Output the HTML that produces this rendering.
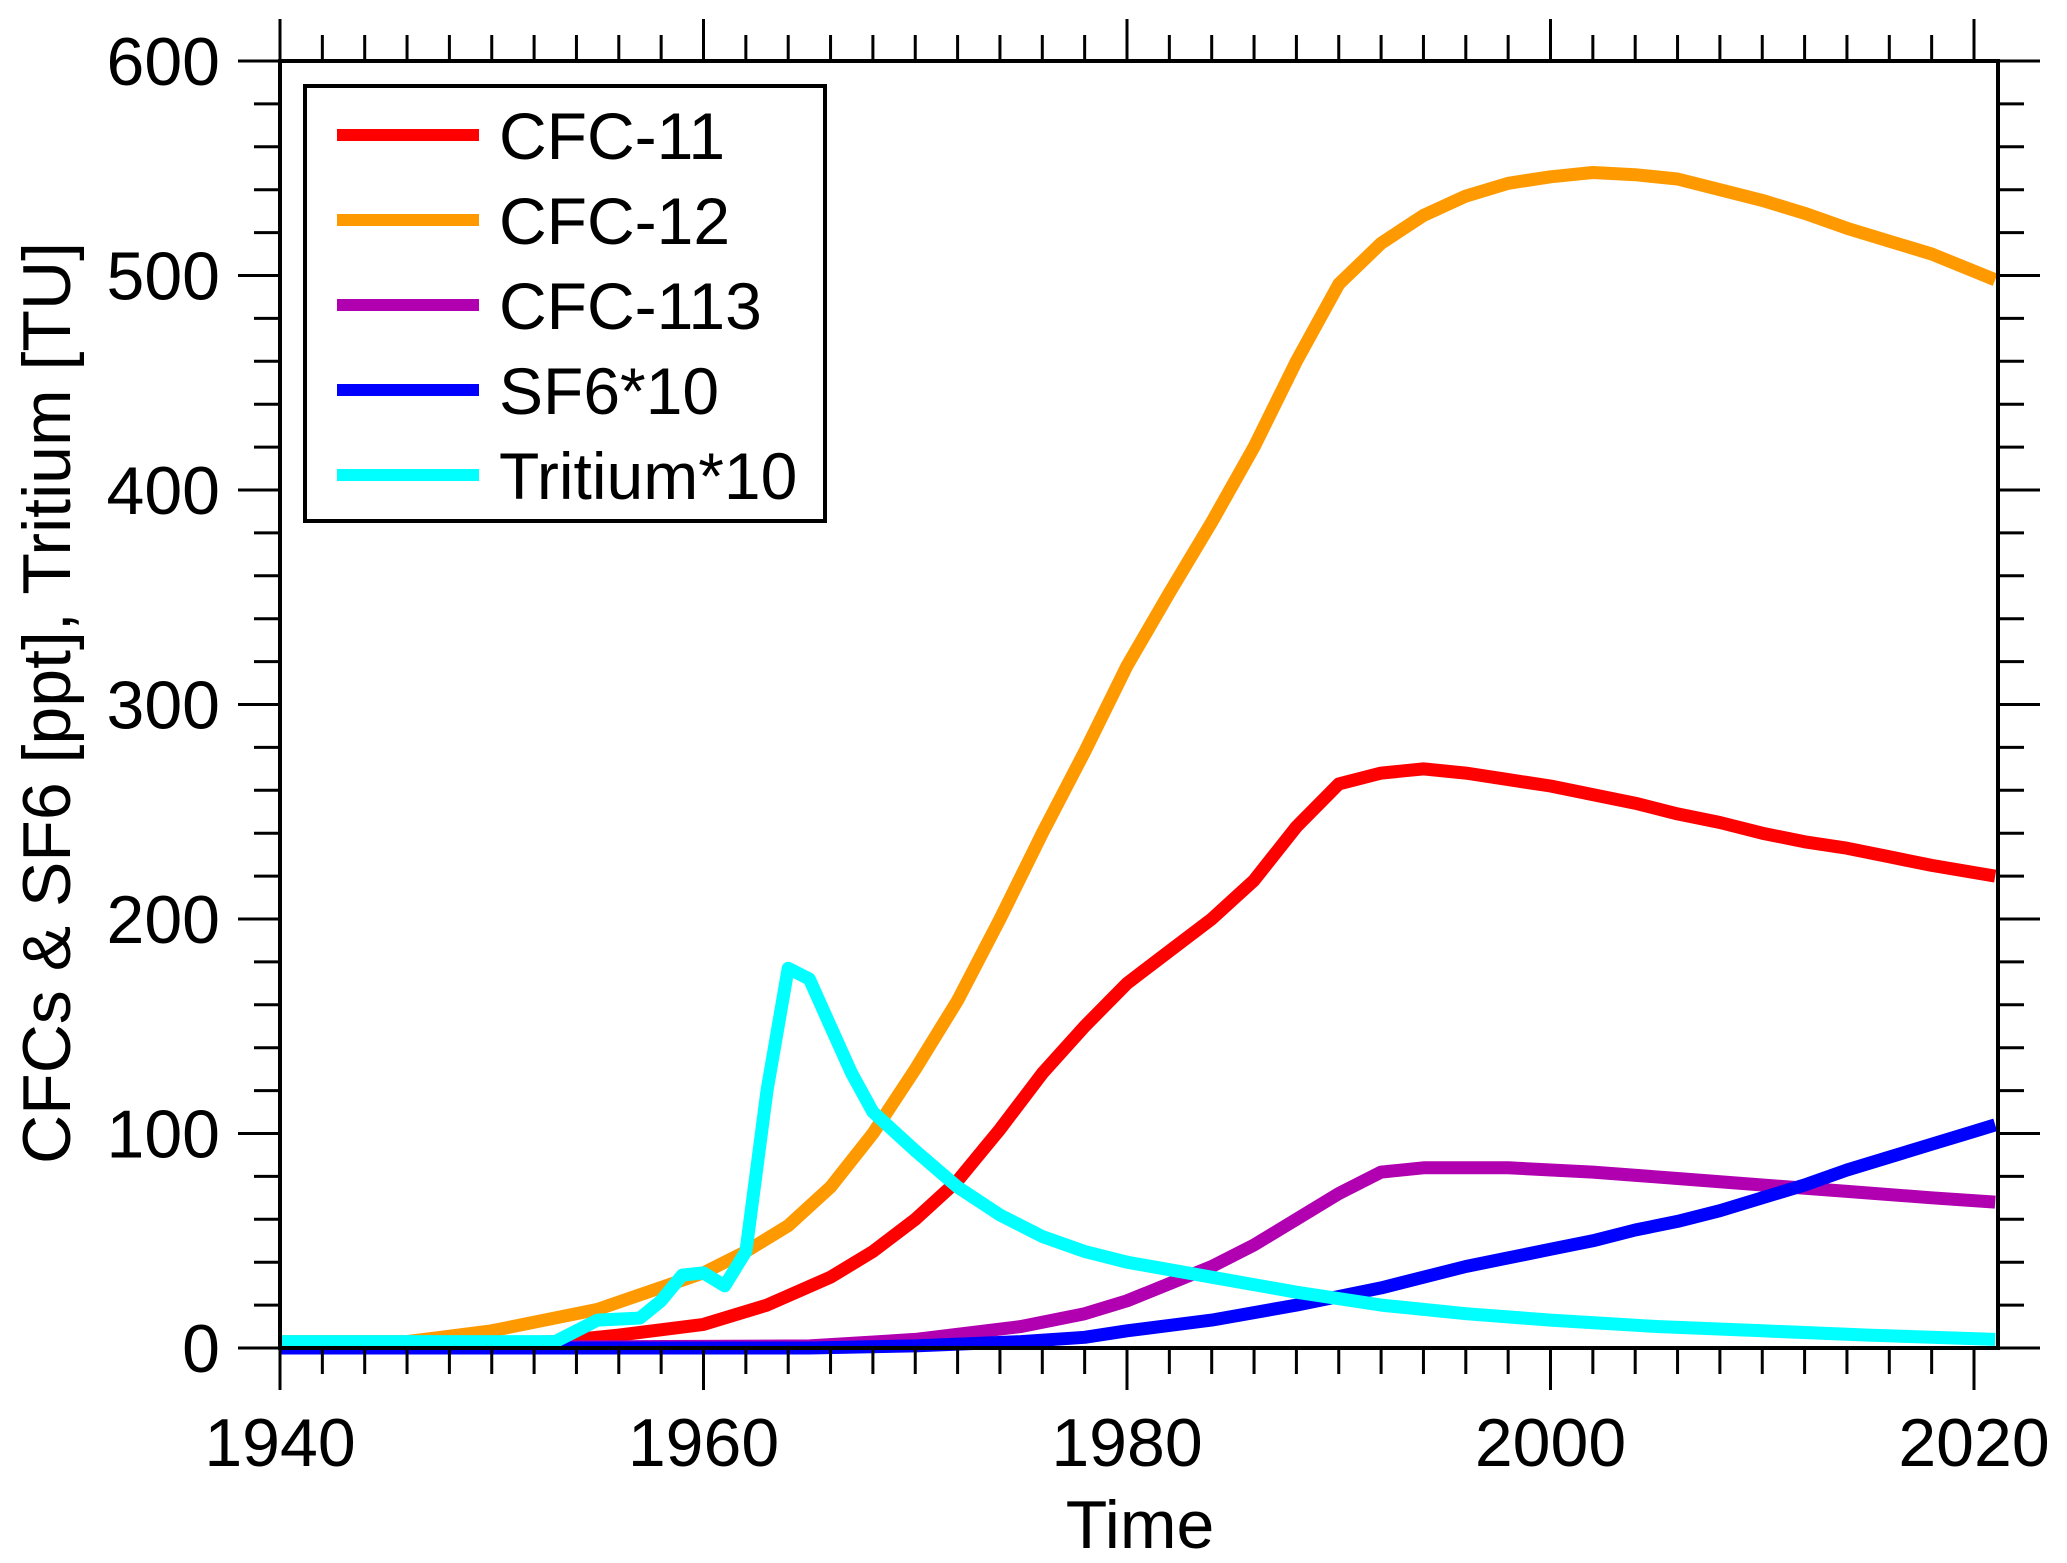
<!DOCTYPE html>
<html><head><meta charset="utf-8"><style>
html,body{margin:0;padding:0;background:#fff}
svg{display:block;font-family:"Liberation Sans",Arial,sans-serif}
</style></head><body>
<svg id="chart" width="2067" height="1563" viewBox="0 0 2067 1563" xmlns="http://www.w3.org/2000/svg">
<rect width="2067" height="1563" fill="#fff"/>
<g id="series"></g>
<g id="axes"></g>
<g id="legend"></g>
</svg>
<script>
const xTickLabels = [1940, 1960, 1980, 2000, 2020];
const yTickLabels = [0, 100, 200, 300, 400, 500, 600];
const cfc12Years = [1940,1946,1950,1955,1960,1962,1964,1966,1968,1970,1972,1974,1976,1978,1980,1982,1984,1986,1988,1990,1992,1994,1996,1998,2000,2002,2004,2006,2008,2010,2012,2014,2016,2018,2021];
const cfc12Values = [3,3,8,18,35,45,57,75,100,130,162,200,240,278,318,352,385,420,460,496,515,528,537,543,546,548,547,545,540,535,529,522,516,510,498];
const cfc11Years = [1940,1953,1956,1960,1963,1966,1968,1970,1972,1974,1976,1978,1980,1982,1984,1986,1988,1990,1992,1994,1996,1998,2000,2002,2004,2006,2008,2010,2012,2014,2016,2018,2021];
const cfc11Values = [0,3,6,11,20,33,45,60,78,102,128,150,170,185,200,218,243,263,268,270,268,265,262,258,254,249,245,240,236,233,229,225,220];
const cfc113Years = [1940,1965,1970,1975,1978,1980,1982,1984,1986,1988,1990,1992,1994,1998,2002,2006,2010,2014,2018,2021];
const cfc113Values = [0,1,4,10,16,22,30,38,48,60,72,82,84,84,82,79,76,73,70,68];
const sf6Years = [1940,1965,1970,1975,1978,1980,1984,1988,1990,1992,1994,1996,1998,2000,2002,2004,2006,2008,2010,2012,2014,2016,2018,2020,2021];
const sf6Values = [0,0,1,3,5,8,13,20,24,28,33,38,42,46,50,55,59,64,70,76,83,89,95,101,104];
const tritiumYears = [1940,1953,1954,1955,1957,1958,1959,1960,1961,1962,1963,1964,1965,1966,1967,1968,1970,1972,1974,1976,1978,1980,1984,1988,1992,1996,2000,2005,2010,2015,2021];
const tritiumValues = [3,3,8,13,14,22,34,35,29,45,120,177,172,150,128,110,92,75,62,52,45,40,33,26,20,16,13,10,8,6,4];
const seriesNames = ["CFC-11","CFC-12","CFC-113","SF6*10","Tritium*10"];

const NS="http://www.w3.org/2000/svg";
const L=280,R=1998,T=61,B=1348;
const xs=v=>L+(v-1940)*(1974-280)/80;
const ys=v=>B-v*(B-T)/600;
function mk(tag,attrs,parent){const e=document.createElementNS(NS,tag);for(const k in attrs)e.setAttribute(k,attrs[k]);parent.appendChild(e);return e;}
const gS=document.getElementById('series'),gA=document.getElementById('axes'),gL=document.getElementById('legend');

const series=[
 {name:'cfc-11',yrs:cfc11Years,vals:cfc11Values,c:'#ff0000'},
 {name:'cfc-12',yrs:cfc12Years,vals:cfc12Values,c:'#ff9900'},
 {name:'cfc-113',yrs:cfc113Years,vals:cfc113Values,c:'#b000b0'},
 {name:'sf6',yrs:sf6Years,vals:sf6Values,c:'#0000ff'},
 {name:'tritium',yrs:tritiumYears,vals:tritiumValues,c:'#00ffff'}
];
series.forEach(s=>{
 const d=s.yrs.map((y,i)=>(i?'L':'M')+xs(y).toFixed(1)+','+ys(s.vals[i]).toFixed(1)).join('');
 const p=mk('path',{d:d,fill:'none',stroke:s.c,'stroke-width':13,'stroke-linejoin':'round'},gS);
 
 
});

const fr=mk('rect',{x:L,y:T,width:R-L,height:B-T,fill:'none',stroke:'#000','stroke-width':4},gA);


for(let y=1940;y<=2020;y+=2){
 const maj=(y%20===0),len=maj?42:26,x=xs(y);
 mk('line',{x1:x,y1:B,x2:x,y2:B+len,stroke:'#000','stroke-width':3},gA);
 mk('line',{x1:x,y1:T,x2:x,y2:T-len,stroke:'#000','stroke-width':3},gA);
}
xTickLabels.forEach(v=>{
 const t=mk('text',{x:xs(v),y:1466,'font-size':68,'text-anchor':'middle'},gA);
 t.textContent=v;
 
 
});
for(let v=0;v<=600;v+=20){
 const maj=(v%100===0),len=maj?42:26,y=ys(v);
 mk('line',{x1:L,y1:y,x2:L-len,y2:y,stroke:'#000','stroke-width':3},gA);
 mk('line',{x1:R,y1:y,x2:R+len,y2:y,stroke:'#000','stroke-width':3},gA);
}
yTickLabels.forEach(v=>{
 const t=mk('text',{x:220,y:ys(v)+24,'font-size':68,'text-anchor':'end'},gA);
 t.textContent=v;
 
 
});
const xt=mk('text',{x:1140,y:1548,'font-size':68,'text-anchor':'middle'},gA);
xt.textContent='Time';


const yt=mk('text',{x:0,y:0,'font-size':68,'text-anchor':'middle',transform:'translate(70,703) rotate(-90)'},gA);
yt.textContent='CFCs & SF6 [ppt],  Tritium [TU]';



const lb=mk('rect',{x:305,y:86,width:520,height:435,fill:'#fff',stroke:'#000','stroke-width':4},gL);


series.forEach((s,i)=>{
 const y=135+i*85;
 const g=mk('g',{},gL);
 
 
 mk('line',{x1:337,y1:y,x2:479,y2:y,stroke:s.c,'stroke-width':12},g);
 const t=mk('text',{x:499,y:y+24,'font-size':66},g);
 t.textContent=seriesNames[i];
});
</script>
</body></html>
